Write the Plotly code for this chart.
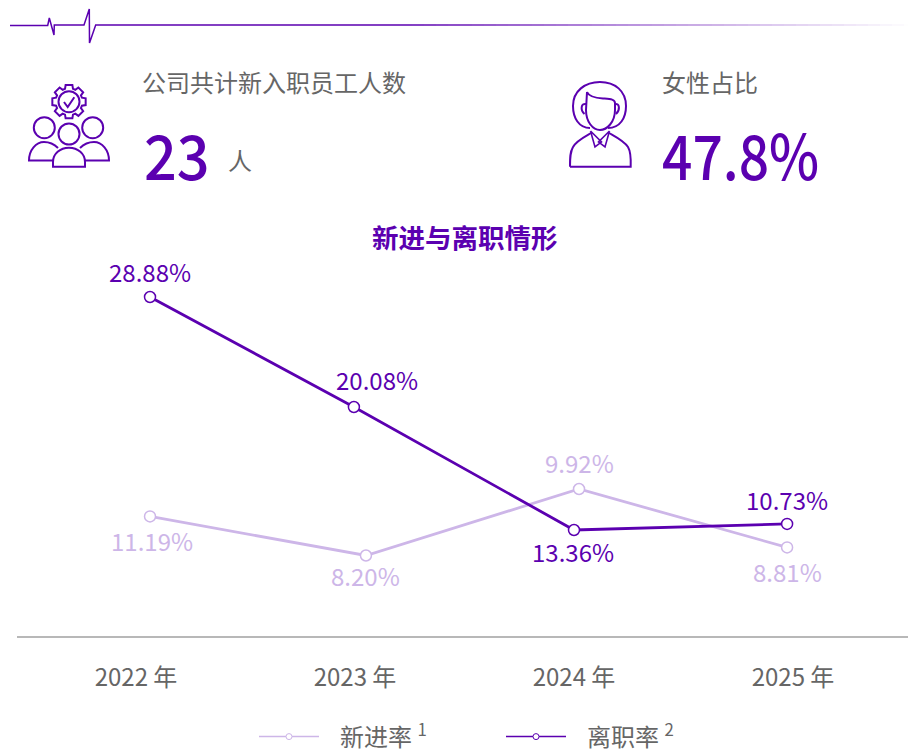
import re
import math
import plotly.graph_objects as go

W, H = 908, 749
PURPLE = "#5b00b0"
LIGHT = "#cdb6e8"
GREY = "#666666"
CJK = "Noto Sans CJK SC"

# --- data ---
years = [2022, 2023, 2024, 2025]
tick_labels = ["2022 年", "2023 年", "2024 年", "2025 年"]
hire_x = [2022.064, 2023.05, 2024.023, 2024.973]
hire_plotted = [11.33, 8.20, 13.52, 8.85]
hire_labels = ["11.19%", "8.20%", "9.92%", "8.81%"]
leave_x = [2022.064, 2022.995, 2024.0, 2024.973]
leave_plotted = [28.88, 20.08, 10.24, 10.73]
leave_labels = ["28.88%", "20.08%", "13.36%", "10.73%"]

# --- pixel helpers (the whole figure is the paper area) ---
def fx(x):
    return x / W
def fy(y):
    return 1 - y / H
def P(d):
    out, i = [], 0
    for tok in re.findall(r"[MLCZ]|-?[\d.]+", d):
        if tok in "MLCZ":
            out.append(tok)
        else:
            out.append(f"{fx(float(tok)):.5f}" if i % 2 == 0 else f"{fy(float(tok)):.5f}")
            i += 1
    return " ".join(out)
shapes = []
def path(d, width=2, color=PURPLE, fill=None):
    s = dict(type="path", xref="paper", yref="paper", path=P(d),
             line=dict(color=color, width=width))
    if fill:
        s["fillcolor"] = fill
    shapes.append(s)
def circle(cx, cy, r, width=2):
    shapes.append(dict(type="circle", xref="paper", yref="paper",
                       x0=fx(cx - r), x1=fx(cx + r), y0=fy(cy + r), y1=fy(cy - r),
                       line=dict(color=PURPLE, width=width)))

# header rule with heartbeat and fade
path("M 10 25.5 L 47.7 25.5 L 49.3 18 L 54 35 L 54.3 25 L 84 25 L 89.3 9 L 89.5 43 L 95.7 25 L 400 25", width=1.5)
for x in range(400, 908, 12):
    a = min(1, (908 - x) / 500)
    shapes.append(dict(type="line", xref="paper", yref="paper", x0=fx(x), x1=fx(x + 12),
                       y0=fy(25), y1=fy(25), line=dict(color=f"rgba(91,0,176,{a:.3f})", width=1.5)))

# group icon
gear = []
for k in range(8):
    c = k * math.pi / 4 - math.pi / 2
    for r, off in [(13.5, -0.30), (17, -0.20), (17, 0.20), (13.5, 0.30)]:
        gear.append((69 + r * math.cos(c + off), 101.7 + r * math.sin(c + off)))
path("M " + " L ".join(f"{a:.2f} {b:.2f}" for a, b in gear) + " Z")
circle(69, 101.7, 10.5)
path("M 64 102 L 67.7 107 L 74.3 97.3", width=2)
circle(44.3, 127.7, 10.5)
circle(69, 134, 10.5)
circle(92.7, 127.7, 10.5)
path("M 53 160.5 L 29 160.5 C 29 150 36 142 44 142 C 49 142 54 144 58 148")
path("M 85 160.5 L 109 160.5 C 109 150 102 142 94 142 C 89 142 84 144 80 148")
path("M 53 166.7 L 85 166.7 L 85 162 C 85 154 78 147.7 69 147.7 C 60 147.7 53 154 53 162 Z")

# person icon
path("M 590 128 C 579 128 573 118 573 106 C 573 91 585 82 600 82 C 615 82 626 91 626 106 C 626 118 620 128 608 128")
path("M 587 92 C 589 97 596 98 603 98.5 C 610 99 615 99 615 103 L 615 110 C 615 122 607 130 600 130 C 593 130 586 122 586 110 Z")
path("M 586 104 C 581 103 580 110 584.5 114")
path("M 615 104 C 619.5 103 620.5 110 616 114")
path("M 570 166.7 L 630.7 166.7 C 631 158 631 152 628 147 C 624 141 616 137 609 133 M 591 133 C 584 137 576 141 573 147 C 570 152 570 158 570 166.7")
path("M 590.5 131 L 595 147 L 601.5 142 L 590.5 131 M 609.5 131 L 605 147 L 598.5 142 L 609.5 131", width=1.6)

# --- text ---
ann = []
def text(x, y, s, size=24, color=GREY, anchor="left", family=CJK, weight=None):
    f = dict(size=size, color=color, family=family)
    if weight:
        f["weight"] = weight
    ann.append(dict(xref="paper", yref="paper", x=fx(x), y=fy(y), text=s, showarrow=False,
                    xanchor=anchor, yanchor="middle", align="left", font=f))
text(140, 82, "公司共计新入职员工人数")
text(660, 82, "女性占比")
text(142, 153, "23", size=62, color=PURPLE, weight=500)
text(225.5, 159, "人")
text(660, 153, "47.8%", size=62, color=PURPLE, weight=500)
text(465, 236, "<b>新进与离职情形</b>", size=26.5, color=PURPLE, anchor="center")

def labels(xs, ys, strs, color, shifts):
    for a, b, s, (dx, dy) in zip(xs, ys, strs, shifts):
        ann.append(dict(xref="x", yref="y", x=a, y=b, text=s, showarrow=False, xshift=dx, yshift=dy,
                        font=dict(size=24, color=color, family=CJK)))
labels(hire_x, hire_plotted, hire_labels, LIGHT, [(2, -24), (0, -20), (0, 27), (0, -24)])
labels(leave_x, leave_plotted, leave_labels, PURPLE, [(0, 26), (23, 28), (-1, -21), (0, 24)])

# --- traces ---
def series(x, y, color):
    return go.Scatter(x=x, y=y, mode="lines+markers", showlegend=False, cliponaxis=False,
                      line=dict(color=color, width=2.8),
                      marker=dict(size=11, color="white", line=dict(color=color, width=1.5)))
def key(name, color):
    return go.Scatter(x=[None], y=[None], mode="lines+markers", name=name,
                      line=dict(color=color, width=1.5),
                      marker=dict(size=6, color="white", line=dict(color=color, width=1)))
fig = go.Figure([
    series(hire_x, hire_plotted, LIGHT),
    series(leave_x, leave_plotted, PURPLE),
    key("\u2002\u2006新进率 <sup>1</sup>", LIGHT),
    key("\u2002\u2006离职率 <sup>2</sup>", PURPLE),
])
fig.update_layout(
    width=W, height=H, margin=dict(l=0, r=0, t=0, b=0, pad=0, autoexpand=False),
    paper_bgcolor="white", plot_bgcolor="white", shapes=shapes, annotations=ann,
    font=dict(family=CJK, color=GREY, size=24),
    legend=dict(orientation="h", x=fx(254), y=fy(737), xanchor="left", yanchor="middle",
                itemwidth=60, entrywidth=172, entrywidthmode="pixels",
                font=dict(size=24, color=GREY), bgcolor="rgba(0,0,0,0)"),
    xaxis=dict(domain=[fx(17), 1], range=[2022 - 119 / 219, 2022 + 772 / 219],
               tickmode="array", tickvals=years, ticktext=tick_labels,
               showgrid=False, zeroline=False, showline=True, linecolor="#b8b8b8", linewidth=1.5,
               ticks="", ticklabelstandoff=19, tickfont=dict(size=24, color=GREY, family=CJK)),
    yaxis=dict(domain=[fy(636), fy(240)], range=[1.76, 33.44], visible=False),
)
# The two headline figures are set in a condensed cut: narrow them horizontally.
post = """
document.body.style.margin='0';
document.querySelectorAll('text.annotation-text').forEach(function(t){
  var s=t.textContent;
  if(s==='23'||s==='47.8%'){
    var k=(s==='23')?0.93:0.86;
    var x=parseFloat(t.getAttribute('x'))||0;
    t.setAttribute('transform','translate('+(x*(1-k))+',0) scale('+k+',1)');
  }
});
"""
fig.write_html("out.html", config=dict(displayModeBar=False), post_script=post)
